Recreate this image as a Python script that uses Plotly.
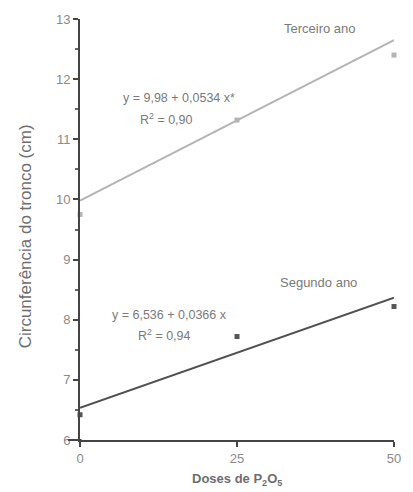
import plotly.graph_objects as go

doses = [0, 25, 50]
terceiro_pts = [9.75, 11.32, 12.4]
segundo_pts = [6.42, 7.72, 8.22]
terceiro_fit = [9.98, 12.65]
segundo_fit = [6.536, 8.366]
fit_x = [0, 50]
y_ticks = [6, 7, 8, 9, 10, 11, 12, 13]
x_ticks = [0, 25, 50]

fig = go.Figure()
fig.add_trace(go.Scatter(x=fit_x, y=terceiro_fit, mode="lines",
                         line=dict(color="#b4b4b4", width=2), showlegend=False))
fig.add_trace(go.Scatter(x=fit_x, y=segundo_fit, mode="lines",
                         line=dict(color="#505050", width=2), showlegend=False))
fig.add_trace(go.Scatter(x=doses, y=terceiro_pts, mode="markers",
                         marker=dict(symbol="square", size=5, color="#b4b4b4"),
                         showlegend=False, cliponaxis=False))
fig.add_trace(go.Scatter(x=doses, y=segundo_pts, mode="markers",
                         marker=dict(symbol="square", size=5, color="#555555"),
                         showlegend=False, cliponaxis=False))

fam = "Liberation Sans, Arial"
ann = [
    dict(x=38.2, y=12.84, text="Terceiro ano", size=13),
    dict(x=15.7, y=11.69, text="y = 9,98 + 0,0534 x*", size=12.5),
    dict(x=13.8, y=11.33, text="R<sup>2</sup> = 0,90", size=12.5),
    dict(x=38.0, y=8.62, text="Segundo ano", size=13),
    dict(x=14.3, y=8.08, text="y = 6,536 + 0,0366 x", size=12.5),
    dict(x=13.5, y=7.75, text="R<sup>2</sup> = 0,94", size=12.5),
]
for a in ann:
    fig.add_annotation(x=a["x"], y=a["y"], text=a["text"], showarrow=False,
                       font=dict(family=fam, color="#7a7a7a", size=a["size"]),
                       xref="x", yref="y")

fig.add_annotation(x=0.5, y=-0.094, xref="paper", yref="paper",
                   text="<b>Doses de P<sub>2</sub>O<sub>5</sub></b>", showarrow=False,
                   font=dict(family=fam, color="#6e6e6e", size=13),
                   yanchor="middle")
fig.add_annotation(x=-0.173, y=0.483, xref="paper", yref="paper",
                   text="Circunferência do tronco (cm)", showarrow=False, textangle=-90,
                   font=dict(family=fam, color="#6e6e6e", size=17),
                   xanchor="center", yanchor="middle")

# x axis line extending slightly left of the y axis
fig.add_shape(type="line", xref="paper", yref="paper", x0=-0.038, x1=0.005, y0=0, y1=0,
              line=dict(color="#444444", width=2))

fig.update_xaxes(range=[0, 50], tickvals=x_ticks, ticks="outside", ticklen=5,
                 tickwidth=2, tickcolor="#444444",
                 showline=True, linecolor="#444444", linewidth=2, showgrid=False, zeroline=False,
                 tickfont=dict(family=fam, color="#8a8a8a", size=13))
fig.update_yaxes(range=[6, 13], tickvals=y_ticks, ticks="outside", ticklen=5,
                 tickwidth=2, tickcolor="#444444",
                 minor=dict(dtick=0.5, ticks="outside", ticklen=3, tickcolor="#666666"),
                 showline=True, linecolor="#444444", linewidth=2, showgrid=False, zeroline=False,
                 tickfont=dict(family=fam, color="#8a8a8a", size=13))

fig.update_layout(width=413, height=492, margin=dict(l=80, r=15, t=15, b=52),
                  plot_bgcolor="white", paper_bgcolor="white")
fig.write_html("out.html", config={"displayModeBar": False},
               post_script="document.body.style.margin='0';document.body.style.overflow='hidden';")
